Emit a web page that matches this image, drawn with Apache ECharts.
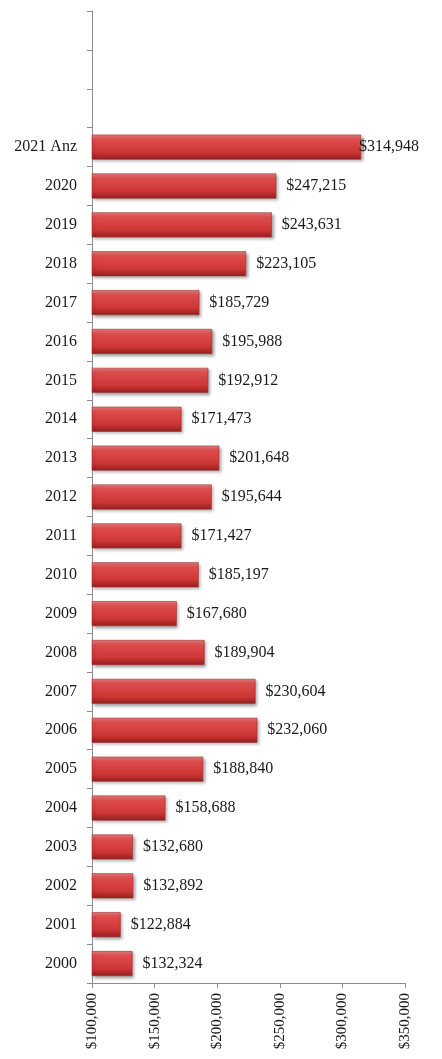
<!DOCTYPE html>
<html>
<head>
<meta charset="utf-8">
<script src="https://cdn.jsdelivr.net/npm/echarts@6/dist/echarts.min.js"></script>
<style>html,body{margin:0;padding:0;background:#fff;}#c{width:442px;height:1059px;}</style>
</head>
<body>
<div id="c"></div>
<script>
const categories = ['2000','2001','2002','2003','2004','2005','2006','2007','2008','2009','2010','2011','2012','2013','2014','2015','2016','2017','2018','2019','2020','2021 Anz','','',''];
const values = [132324,122884,132892,132680,158688,188840,232060,230604,189904,167680,185197,171427,195644,201648,171473,192912,195988,185729,223105,243631,247215,314948,null,null,null];
const xTicks = [100000,150000,200000,250000,300000,350000];

const fmt = v => '$' + Math.round(v).toLocaleString('en-US');
const FONT = '"Liberation Serif", "DejaVu Serif", serif';

const seriesData = values.map((v, i) => {
  if (v === null) return null;
  const item = { value: v };
  if (categories[i] === '2021 Anz') item.label = { distance: -2 };
  return item;
});

const chart = echarts.init(document.getElementById('c'));
chart.setOption({
  animation: false,
  grid: { left: 92, right: 37, top: 11, bottom: 76, containLabel: false },
  xAxis: {
    type: 'value',
    min: xTicks[0], max: xTicks[xTicks.length - 1], interval: 50000,
    axisLine: { show: true, lineStyle: { color: '#8c8c8c', width: 1 } },
    axisTick: { show: true, length: 5, lineStyle: { color: '#8c8c8c' } },
    splitLine: { show: false },
    axisLabel: { rotate: 90, formatter: fmt, color: '#1a1a1a', fontFamily: FONT, fontSize: 15, margin: 10 }
  },
  yAxis: {
    type: 'category',
    data: categories,
    axisLine: { show: true, lineStyle: { color: '#8c8c8c', width: 1 } },
    axisTick: { show: true, length: 5, lineStyle: { color: '#8c8c8c' } },
    axisLabel: { color: '#1a1a1a', fontFamily: FONT, fontSize: 16, margin: 15 }
  },
  series: [{
    type: 'bar',
    data: seriesData,
    barWidth: 25,
    itemStyle: {
      color: new echarts.graphic.LinearGradient(0, 0, 0, 1, [
        { offset: 0, color: '#ec8080' },
        { offset: 0.2, color: '#de4c4c' },
        { offset: 0.7, color: '#cf3636' },
        { offset: 1, color: '#951f1f' }
      ]),
      borderColor: '#a03030',
      borderWidth: 0.6,
      shadowColor: 'rgba(0,0,0,0.35)',
      shadowBlur: 3,
      shadowOffsetX: 2,
      shadowOffsetY: 2
    },
    label: {
      show: true, position: 'right', distance: 10,
      formatter: p => fmt(p.value),
      color: '#1a1a1a', fontFamily: FONT, fontSize: 16
    }
  }]
});
</script>
</body>
</html>
